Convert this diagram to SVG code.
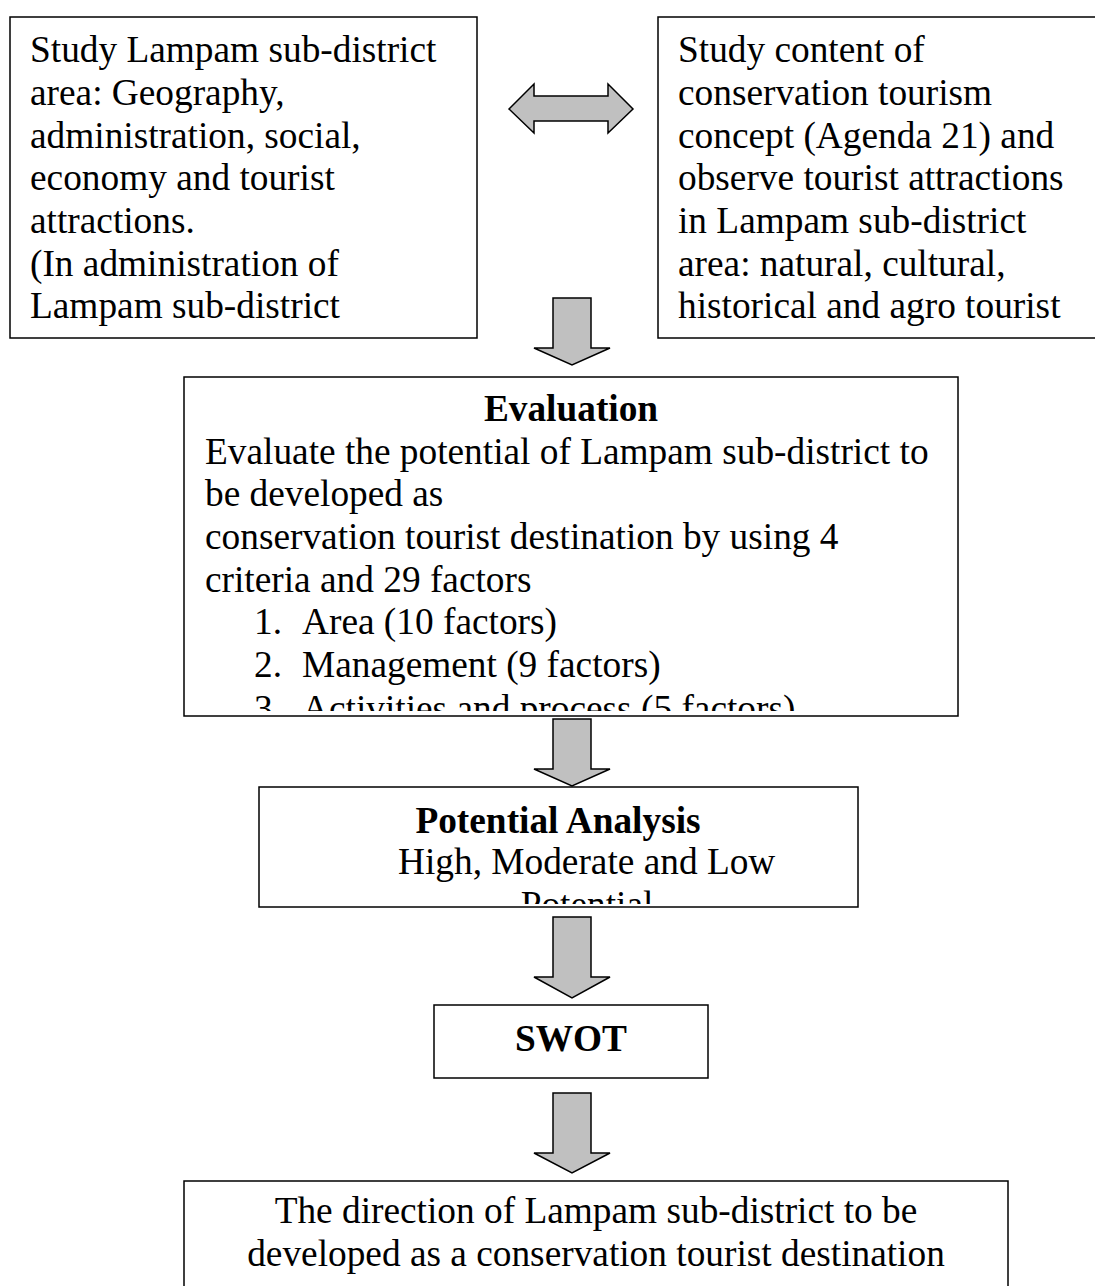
<svg xmlns="http://www.w3.org/2000/svg" width="1095" height="1286" viewBox="0 0 1095 1286">
<style>
  .box { fill: #ffffff; stroke: #000000; stroke-width: 1.5; }
  .arrow { fill: #c0c0c0; stroke: #000000; stroke-width: 1.5; stroke-linejoin: miter; }
  .t { font-family: "Liberation Serif", "Times New Roman", serif; font-size: 37.33px; fill: #000000; }
  .b { font-weight: bold; }
  .c { text-anchor: middle; }
</style>
<defs>
  <clipPath id="clipEval"><rect x="185" y="378" width="772" height="333"/></clipPath>
  <clipPath id="clipPot"><rect x="260" y="788" width="597" height="116"/></clipPath>
</defs>
<rect width="1095" height="1286" fill="#ffffff"/>

<g id="connectors">
  <polygon class="arrow" points="509,109 534,84 534,96 608,96 608,84 633,109 608,133 608,121 534,121 534,133"/>
  <polygon class="arrow" points="553,298 591,298 591,348 610,348 572,365 534,348 553,348"/>
  <polygon class="arrow" points="553,719 591,719 591,769 610,769 572,786 534,769 553,769"/>
  <polygon class="arrow" points="553,917 591,917 591,977 610,977 572,998 534,977 553,977"/>
  <polygon class="arrow" points="553,1093 591,1093 591,1153 610,1153 572,1173 534,1153 553,1153"/>
</g>

<g id="node-study-area">
  <rect class="box" x="10" y="17" width="467" height="321"/>
  <text class="t" x="30" y="62.3">Study Lampam sub-district</text>
  <text class="t" x="30" y="105">area: Geography,</text>
  <text class="t" x="30" y="147.7">administration, social,</text>
  <text class="t" x="30" y="190.3">economy and tourist</text>
  <text class="t" x="30" y="233">attractions.</text>
  <text class="t" x="30" y="275.7">(In administration of</text>
  <text class="t" x="30" y="318.3">Lampam sub-district</text>
</g>

<g id="node-study-content">
  <rect class="box" x="658" y="17" width="450" height="321"/>
  <text class="t" x="678" y="62.3">Study content of</text>
  <text class="t" x="678" y="105">conservation tourism</text>
  <text class="t" x="678" y="147.7">concept (Agenda 21) and</text>
  <text class="t" x="678" y="190.3">observe tourist attractions</text>
  <text class="t" x="678" y="233">in Lampam sub-district</text>
  <text class="t" x="678" y="275.7">area: natural, cultural,</text>
  <text class="t" x="678" y="318.3">historical and agro tourist</text>
</g>

<g id="node-evaluation">
  <rect class="box" x="184" y="377" width="774" height="339"/>
  <g clip-path="url(#clipEval)">
    <text class="t b c" x="571" y="421">Evaluation</text>
    <text class="t" x="205" y="463.7">Evaluate the potential of Lampam sub-district to</text>
    <text class="t" x="205" y="506.3">be developed as</text>
    <text class="t" x="205" y="549">conservation tourist destination by using 4</text>
    <text class="t" x="205" y="591.7">criteria and 29 factors</text>
    <text class="t" x="254" y="634.3">1.</text><text class="t" x="302" y="634.3">Area (10 factors)</text>
    <text class="t" x="254" y="677">2.</text><text class="t" x="302" y="677">Management (9 factors)</text>
    <text class="t" x="254" y="720.5">3.</text><text class="t" x="302" y="720.5">Activities and process (5 factors)</text>
  </g>
</g>

<g id="node-potential">
  <rect class="box" x="259" y="787" width="599" height="120"/>
  <g clip-path="url(#clipPot)">
    <text class="t b c" x="558" y="832.5">Potential Analysis</text>
    <text class="t" x="398" y="874">High, Moderate and Low</text>
    <text class="t c" x="587" y="916.5">Potential</text>
  </g>
</g>

<g id="node-swot">
  <rect class="box" x="434" y="1005" width="274" height="73"/>
  <text class="t b c" x="571" y="1050.7">SWOT</text>
</g>

<g id="node-direction">
  <rect class="box" x="184" y="1181" width="824" height="120"/>
  <text class="t c" x="596" y="1223">The direction of Lampam sub-district to be</text>
  <text class="t c" x="596" y="1266">developed as a conservation tourist destination</text>
</g>
</svg>
